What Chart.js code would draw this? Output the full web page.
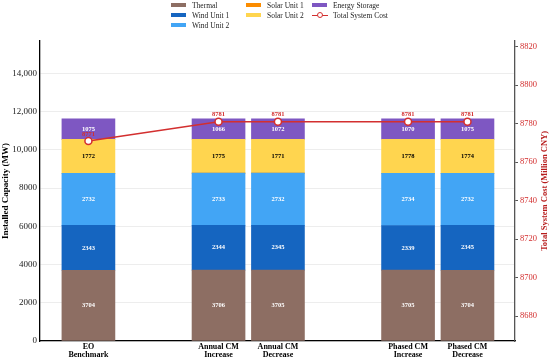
<!DOCTYPE html>
<html>
<head>
<meta charset="utf-8">
<script src="https://cdn.jsdelivr.net/npm/chart.js@4.4.1/dist/chart.umd.min.js"></script>
<style>
  html,body{margin:0;padding:0;background:#fff;}
  #wrap{position:relative;width:550px;height:358px;}
  #legend{position:absolute;left:171px;top:0;display:grid;grid-template-columns:75px 66px auto;grid-template-rows:10px 10px 10px;font-family:"Liberation Serif",serif;font-size:7.5px;color:#222;}
  .li{display:flex;align-items:center;height:10px;white-space:nowrap;}
  .sw{display:inline-block;width:15px;height:4px;margin-right:6px;}
  .ln{position:relative;width:16px;height:8px;margin-right:5px;}
  .ln:before{content:"";position:absolute;left:0;right:0;top:3.5px;height:1.5px;background:#d32f2f;}
  .ln:after{content:"";position:absolute;left:4.5px;top:1px;width:4px;height:4px;border:1.3px solid #d32f2f;border-radius:50%;background:#fff;}
</style>
</head>
<body>
<div id="wrap">
  <canvas id="chart" width="550" height="358"></canvas>
  <div id="legend"></div>
</div>
<script>
// --- Data ---
const categories = [['EO','Benchmark'],['Annual CM','Increase'],['Annual CM','Decrease'],['Phased CM','Increase'],['Phased CM','Decrease']];
const groupOf = [0,1,1,2,2];
const thermal = [3704,3706,3705,3705,3704];
const windUnit1 = [2343,2344,2345,2339,2345];
const windUnit2 = [2732,2733,2732,2734,2732];
const solarUnit1 = [0,0,0,0,0];
const solarUnit2 = [1772,1775,1771,1778,1774];
const energyStorage = [1075,1066,1072,1070,1075];
const totalCost = [8771,8781,8781,8781,8781];
const capTicks = [0,2000,4000,6000,8000,10000,12000,14000];
const costTicks = [8680,8700,8720,8740,8760,8780,8800,8820];

// --- Layout helpers ---
const GROUP_GAP = 1.19;
const xPos = categories.map((c,i)=>i+groupOf[i]*GROUP_GAP);
const serif = '"Liberation Serif", "Times New Roman", serif';

const series = [
  {label:'Thermal', data:thermal, color:'#8d6e63', text:'#fff'},
  {label:'Wind Unit 1', data:windUnit1, color:'#1565c0', text:'#fff'},
  {label:'Wind Unit 2', data:windUnit2, color:'#42a5f5', text:'#fff'},
  {label:'Solar Unit 1', data:solarUnit1, color:'#fb8c00', text:'#000'},
  {label:'Solar Unit 2', data:solarUnit2, color:'#ffd54f', text:'#000'},
  {label:'Energy Storage', data:energyStorage, color:'#7e57c2', text:'#fff'}
];

const datasets = series.map(s=>({
  type:'bar', label:s.label, backgroundColor:s.color, borderWidth:0,
  data:s.data.map((v,i)=>({x:xPos[i], y:v})), yAxisID:'y', order:1,
  barThickness:53, textColor:s.text
}));
datasets.push({
  type:'line', label:'Total System Cost', yAxisID:'y1', order:0,
  data:totalCost.map((v,i)=>({x:xPos[i], y:v})),
  borderColor:'#d32f2f', borderWidth:1.6, pointRadius:3.5, pointBorderWidth:1.5,
  pointBackgroundColor:'#fff', pointBorderColor:'#d32f2f', tension:0
});

// --- Value labels + right title (reads bottom-to-top like the left one) ---
const valueLabels = {
  id:'valueLabels',
  afterDatasetsDraw(chart){
    const ctx = chart.ctx;
    ctx.save();
    ctx.textAlign='center'; ctx.textBaseline='middle';
    chart.data.datasets.forEach((ds,di)=>{
      const meta = chart.getDatasetMeta(di);
      meta.data.forEach((el,i)=>{
        const v = ds.data[i].y;
        ctx.font = 'bold 6.5px '+serif;
        if(ds.type==='bar'){
          if(!v) return;
          ctx.fillStyle = ds.textColor;
          ctx.fillText(String(v), el.x, (el.y+el.base)/2);
        } else {
          ctx.fillStyle = '#d32f2f';
          ctx.fillText(String(v), el.x, el.y-7);
        }
      });
    });
    const a = chart.chartArea;
    ctx.translate(545, (a.top+a.bottom)/2);
    ctx.rotate(-Math.PI/2);
    ctx.font = 'bold 8.5px '+serif;
    ctx.fillStyle = '#b71c1c';
    ctx.fillText('Total System Cost (Million CNY)', 0, 0);
    ctx.restore();
  }
};

new Chart(document.getElementById('chart'),{
  data:{datasets},
  options:{
    responsive:false, animation:false,
    layout:{padding:{top:41,left:0,right:0,bottom:0}},
    plugins:{legend:{display:false}, tooltip:{enabled:false}},
    scales:{
      x:{
        type:'linear', stacked:true, offset:false,
        min:xPos[0]-0.815, max:xPos[xPos.length-1]+0.8,
        afterBuildTicks:s=>{ s.ticks = xPos.map(v=>({value:v})); },
        afterFit:s=>{ s.height = 17; },
        grid:{display:false, drawTicks:false},
        border:{color:'#000', width:1.3},
        ticks:{autoSkip:false, maxRotation:0, padding:2, color:'#000',
          font:{family:serif, size:8, weight:'bold', lineHeight:1.0},
          callback:v=>{ const i = xPos.findIndex(p=>Math.abs(p-v)<1e-6); return i>=0 ? categories[i] : ''; }}
      },
      y:{
        position:'left', stacked:true, min:0, max:15700,
        afterBuildTicks:s=>{ s.ticks = capTicks.map(v=>({value:v})); },
        afterFit:s=>{ s.width = 40; },
        grid:{color:'rgba(0,0,0,0.07)', drawTicks:false},
        border:{color:'#000', width:1.3},
        ticks:{color:'#222', padding:3, font:{family:serif, size:9},
          callback:v=> v>=10000 ? v.toLocaleString('en-US') : String(v)},
        title:{display:true, text:'Installed Capacity (MW)', color:'#000', padding:{top:0,bottom:0},
          font:{family:serif, size:9, weight:'bold'}}
      },
      y1:{
        position:'right', min:8667, max:8823,
        afterBuildTicks:s=>{ s.ticks = costTicks.map(v=>({value:v})); },
        afterFit:s=>{ s.width = 35; },
        grid:{drawOnChartArea:false, tickLength:3, color:'#555'},
        border:{color:'#555', width:1.3},
        ticks:{color:'#d32f2f', padding:2, font:{family:serif, size:8.5}, callback:v=>String(v)}
      }
    }
  },
  plugins:[valueLabels]
});

// --- Legend (column-major like the reference: 3 | 2 | 2) ---
const legend = document.getElementById('legend');
const items = series.map(s=>'<span class="sw" style="background:'+s.color+'"></span>'+s.label);
items.push('<span class="ln"></span>Total System Cost');
const cols = [[0,1,2],[3,4],[5,6]];
cols.forEach((c,ci)=>c.forEach((idx,ri)=>{
  const d = document.createElement('div'); d.className='li';
  d.innerHTML = items[idx];
  d.style.gridColumn = ci+1; d.style.gridRow = ri+1;
  legend.appendChild(d);
}));
</script>
</body>
</html>
